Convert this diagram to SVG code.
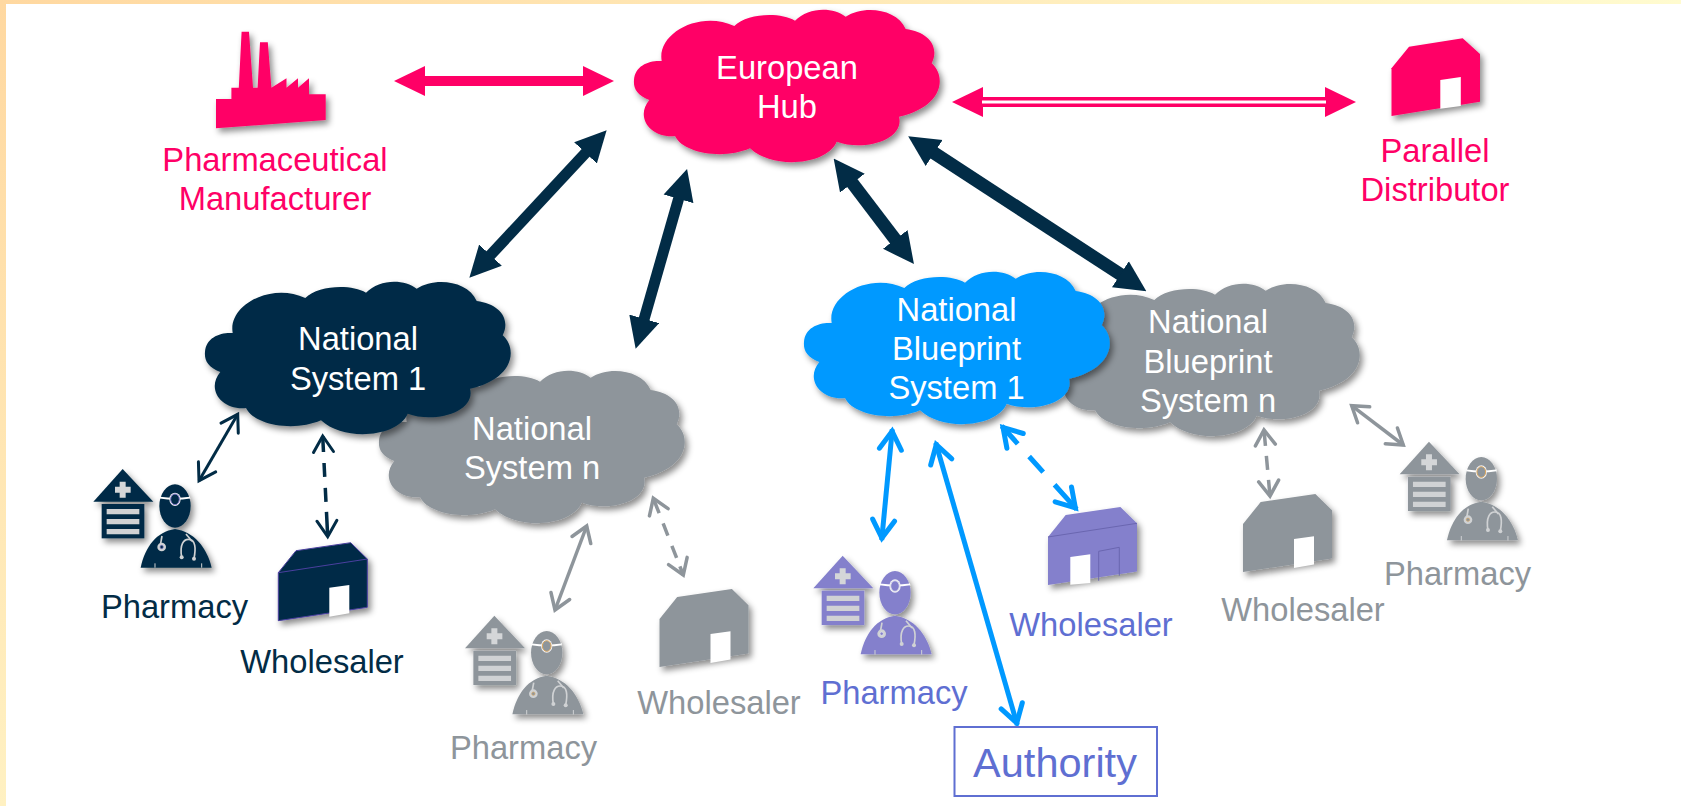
<svg xmlns="http://www.w3.org/2000/svg" width="1681" height="806" viewBox="0 0 1681 806">
<style>
text{font-family:"Liberation Sans",Arial,Helvetica,sans-serif;font-size:32.7px;text-anchor:middle}
.w{fill:#fff}.tp{fill:#ff0066}.tn{fill:#022c46}.tg{fill:#8e959b}.tv{fill:#5f6fd2}
.pink{color:#ff0066;fill:#ff0066}.navy{color:#022c46;fill:#022c46;--ring:#8077c8}.blue{color:#0099ff;fill:#0099ff}
.gray{color:#8e959b;fill:#8e959b;--ring:#d9a860}.vio{color:#8480cc;fill:#8480cc;--ring:#e4e4ee}
.sn{stroke:#022c46}.sg{stroke:#8e959b}.sb{stroke:#0099ff}.sp{stroke:#ff0066}
.c line{fill:none}
.hn{marker-start:url(#headN);marker-end:url(#headN);stroke-width:11}
.hp{marker-start:url(#headP);marker-end:url(#headP);stroke-width:10}
.cn{marker-start:url(#chevN);marker-end:url(#chevN);stroke-width:3}
.cg{marker-start:url(#chevG);marker-end:url(#chevG);stroke-width:3.5}
.cb{marker-start:url(#chevB);marker-end:url(#chevB);stroke-width:5}
</style>
<defs>
<linearGradient id="gl" x1="0" y1="0" x2="0" y2="1"><stop offset="0" stop-color="#ffd8a0"/><stop offset="1" stop-color="#fff1c2"/></linearGradient>
<linearGradient id="gt" x1="0" y1="0" x2="1" y2="0"><stop offset="0" stop-color="#ffd8a0"/><stop offset="1" stop-color="#fffbcf"/></linearGradient>
<filter id="sh" x="-15%" y="-15%" width="135%" height="140%"><feDropShadow dx="3" dy="4" stdDeviation="3" flood-color="#000" flood-opacity=".45"/></filter>
<marker id="headN" viewBox="0 0 31 32" refX="1" refY="16" markerWidth="31" markerHeight="32" markerUnits="userSpaceOnUse" orient="auto-start-reverse"><path d="M0,.5L31,16L0,31.5Z" fill="#022c46"/></marker>
<marker id="headP" viewBox="0 0 31 32" refX="1" refY="16" markerWidth="31" markerHeight="32" markerUnits="userSpaceOnUse" orient="auto-start-reverse"><path d="M0,1L31,16L0,31Z" fill="#ff0066"/></marker>
<marker id="chevN" viewBox="-20 -15 26 30" refX="0" refY="0" markerWidth="26" markerHeight="30" markerUnits="userSpaceOnUse" orient="auto-start-reverse"><path d="M-16,-10L0,0L-16,10" fill="none" stroke="#022c46" stroke-width="3" stroke-linecap="round"/></marker>
<marker id="chevG" viewBox="-20 -15 26 30" refX="0" refY="0" markerWidth="26" markerHeight="30" markerUnits="userSpaceOnUse" orient="auto-start-reverse"><path d="M-15,-10L0,0L-15,10" fill="none" stroke="#8e959b" stroke-width="3.5" stroke-linecap="round"/></marker>
<marker id="chevB" viewBox="-24 -16 34 32" refX="2" refY="0" markerWidth="34" markerHeight="32" markerUnits="userSpaceOnUse" orient="auto-start-reverse"><path d="M-18,-11L0,0L-18,11" fill="none" stroke="#0099ff" stroke-width="5" stroke-linecap="round"/></marker>
<path id="cloud" d="M34,80C35,65 50,60 61.7,61C56.7,33.3 100,10 134.3,26C146.7,13.3 180,11.7 195,20.7C208.3,6.7 233.3,6.7 245.7,16.7C263.3,5 296.7,8.3 305.7,29C328.3,31.7 340,46.7 331.7,63.3C346.7,76.7 343.3,106.7 299,116.7C305,140 263.3,151.7 236.7,141.7C226.7,165 173.3,170 150,148.3C123.3,160 83.3,153.3 75,136C50,138.3 35,116.7 49.3,100C36.7,95 33.3,88.3 34,80Z"/>
<g id="pharm" transform="scale(.33333)">
<path d="M188,207L280,305L100,305Z"/>
<path d="M165,260H179V245H197V260H212V278H197V293H179V278H165Z" fill="#d4d6d8"/>
<rect x="125" y="312" width="128" height="103"/>
<path d="M140,327H238V343H140ZM140,357H238V373H140ZM140,387H238V403H140Z" fill="#d0d2d4"/>
<ellipse cx="345" cy="318" rx="47" ry="65"/>
<path d="M300,293Q345,300 390,293" fill="none" stroke="#fff" stroke-width="5"/>
<ellipse cx="345" cy="298" rx="17" ry="20" fill="#f0f0f4"/>
<ellipse cx="345" cy="298" rx="13" ry="16" fill="currentColor" style="stroke:var(--ring)" stroke-width="3"/>
<path d="M242,503C255,440 290,395 345,387C400,395 440,440 455,503Z"/>
<g fill="none" stroke="#d0d2d4" stroke-width="5">
<path d="M365,472C358,432 372,418 385,418C407,418 408,445 402,475"/>
<path d="M378,402L396,424"/>
<path d="M306,408L302,430"/>
<path d="M285,490V503M425,490V503" stroke-width="3"/>
</g>
<circle cx="365" cy="472" r="6" fill="#d0d2d4"/><circle cx="402" cy="476" r="6" fill="#d0d2d4"/>
<circle cx="305" cy="441" r="13" fill="#d0d2d4"/><circle cx="305" cy="441" r="5" fill="currentColor" style="stroke:var(--ring)" stroke-width="2"/>
</g>
<path id="shed" d="M0,30L17.7,8L72.4,0L89,16.3V64.6L0,78Z"/>
<path id="shedDoor" d="M51,45L71,42.3V70.6L51,74Z" fill="#fff"/>
</defs>

<rect width="1681" height="806" fill="#fff"/>
<rect width="6" height="806" fill="url(#gl)"/>
<rect width="1681" height="4" fill="url(#gt)"/>

<g id="connectors" class="c">
<line class="sp hp" x1="424" y1="81" x2="584" y2="81"/>
<line class="sp hp" x1="982" y1="102" x2="1326" y2="102"/>
<line x1="982" y1="102" x2="1326" y2="102" stroke="#fff" stroke-width="3"/>
<line class="sn hn" x1="586.2" y1="152.2" x2="489.8" y2="255.8"/>
<line class="sn hn" x1="678.8" y1="197.9" x2="643.9" y2="319.8"/>
<line class="sn hn" x1="851.8" y1="182.4" x2="895.8" y2="240.2" style="stroke-width:13"/>
<line class="sn hn" x1="933.3" y1="152.5" x2="1121.2" y2="274.9" style="stroke-width:13"/>
<line class="sn cn" x1="237.7" y1="414.3" x2="199" y2="480.7"/>
<line class="sn cn" x1="322.7" y1="436" x2="327.7" y2="536.7" stroke-dasharray="16 11 14 11 14 10 24" style="stroke-width:3.5"/>
<line class="sg cg" x1="586.7" y1="526" x2="555" y2="610"/>
<line class="sg cg" x1="653.3" y1="498.3" x2="683.3" y2="575" stroke-dasharray="16 11 13 11 13 9 20"/>
<line class="sb cb" x1="892.3" y1="429.3" x2="881.7" y2="540"/>
<line class="sb cb" x1="935.7" y1="442.7" x2="1017.3" y2="725"/>
<line class="sb cb" x1="1001.7" y1="426" x2="1076.7" y2="509.3" stroke-dasharray="24 17 21 17 40"/>
<line class="sg cg" x1="1264" y1="430" x2="1270" y2="496" stroke-dasharray="16 10 14 10 16"/>
<line class="sg cg" x1="1351.7" y1="405.7" x2="1403.3" y2="445"/>
</g>

<g id="manufacturer">
<polygon class="pink" filter="url(#sh)" points="216,99 231.4,99 231.4,87.7 238.8,87.7 241.6,31.7 249,31.7 253,87.7 257.6,87.7 260,42.3 267.8,42.3 271.4,87.7 286.5,78.3 286.5,87.7 298,78.3 298,87.7 309,78.3 309,94.3 325.7,94.3 325.7,120 216,128.3"/>
<text class="tp" x="275" y="171">Pharmaceutical</text>
<text class="tp" x="275" y="210">Manufacturer</text>
</g>

<g id="parallel-distributor">
<polygon class="pink" filter="url(#sh)" points="1391.5,68.3 1409,46.7 1462.7,38.3 1480,54 1480,101.7 1391.5,116"/>
<polygon fill="#fff" points="1440.3,80 1460.8,77 1460.8,106 1440.3,108.7"/>
<text class="tp" x="1435" y="162">Parallel</text>
<text class="tp" x="1435" y="201">Distributor</text>
</g>

<g id="european-hub">
<use href="#cloud" x="600" y="0" class="pink" filter="url(#sh)"/>
<text class="w" x="787" y="79">European</text>
<text class="w" x="787" y="118">Hub</text>
</g>

<g id="national-system-n">
<use href="#cloud" x="345" y="361" class="gray" filter="url(#sh)"/>
<text class="w" x="532" y="440">National</text>
<text class="w" x="532" y="479">System n</text>
</g>
<g id="national-system-1">
<use href="#cloud" x="171" y="272" class="navy" filter="url(#sh)"/>
<text class="w" x="358" y="350">National</text>
<text class="w" x="358" y="390">System 1</text>
</g>
<g id="blueprint-n">
<use href="#cloud" x="1020" y="274" class="gray" filter="url(#sh)"/>
<text class="w" x="1208" y="333">National</text>
<text class="w" x="1208" y="373">Blueprint</text>
<text class="w" x="1208" y="412">System n</text>
</g>
<g id="blueprint-1">
<use href="#cloud" x="770" y="262" class="blue" filter="url(#sh)"/>
<text class="w" x="956.5" y="321">National</text>
<text class="w" x="956.5" y="360">Blueprint</text>
<text class="w" x="956.5" y="399">System 1</text>
</g>

<g id="pharmacy-ns1">
<use href="#pharm" x="60" y="400" class="navy" filter="url(#sh)"/>
<text class="tn" x="174.5" y="618">Pharmacy</text>
</g>
<g id="wholesaler-ns1">
<g transform="translate(278.3,542.7)">
<use href="#shed" class="navy" filter="url(#sh)" stroke="#4a3f9f" stroke-width="1"/>
<path d="M0,30L89,16.3" stroke="#4a3f9f" fill="none"/>
<use href="#shedDoor"/>
</g>
<text class="tn" x="322" y="673">Wholesaler</text>
</g>
<g id="pharmacy-nsn">
<use href="#pharm" x="431.7" y="546.7" class="gray" filter="url(#sh)"/>
<text class="tg" x="523.5" y="759">Pharmacy</text>
</g>
<g id="wholesaler-nsn">
<g transform="translate(659.5,589)">
<use href="#shed" class="gray" filter="url(#sh)"/>
<use href="#shedDoor"/>
</g>
<text class="tg" x="719" y="714">Wholesaler</text>
</g>
<g id="pharmacy-bp1">
<use href="#pharm" x="780" y="486.7" class="vio" filter="url(#sh)"/>
<text class="tv" x="894" y="704">Pharmacy</text>
</g>
<g id="wholesaler-bp1">
<g transform="translate(1048,507)">
<use href="#shed" class="vio" filter="url(#sh)"/>
<path d="M0,30L89,16.3M50.7,73.7V44.3L71.3,40.3V68.7" stroke="#6a66b0" fill="none"/>
<path d="M22.3,50L42.3,47.3V76L22.3,77.7Z" fill="#fff"/>
</g>
<text class="tv" x="1091" y="636">Wholesaler</text>
</g>
<g id="wholesaler-bpn">
<g transform="translate(1243,494)">
<use href="#shed" class="gray" filter="url(#sh)"/>
<use href="#shedDoor"/>
</g>
<text class="tg" x="1303" y="621">Wholesaler</text>
</g>
<g id="pharmacy-bpn">
<use href="#pharm" x="1366.3" y="372.7" class="gray" filter="url(#sh)"/>
<text class="tg" x="1457.5" y="585">Pharmacy</text>
</g>
<g id="authority">
<rect x="954.5" y="727" width="202.5" height="69" fill="#fff" stroke="#5f6fd2" stroke-width="2"/>
<text class="tv" x="1055" y="777" style="font-size:41.5px">Authority</text>
</g>
</svg>
